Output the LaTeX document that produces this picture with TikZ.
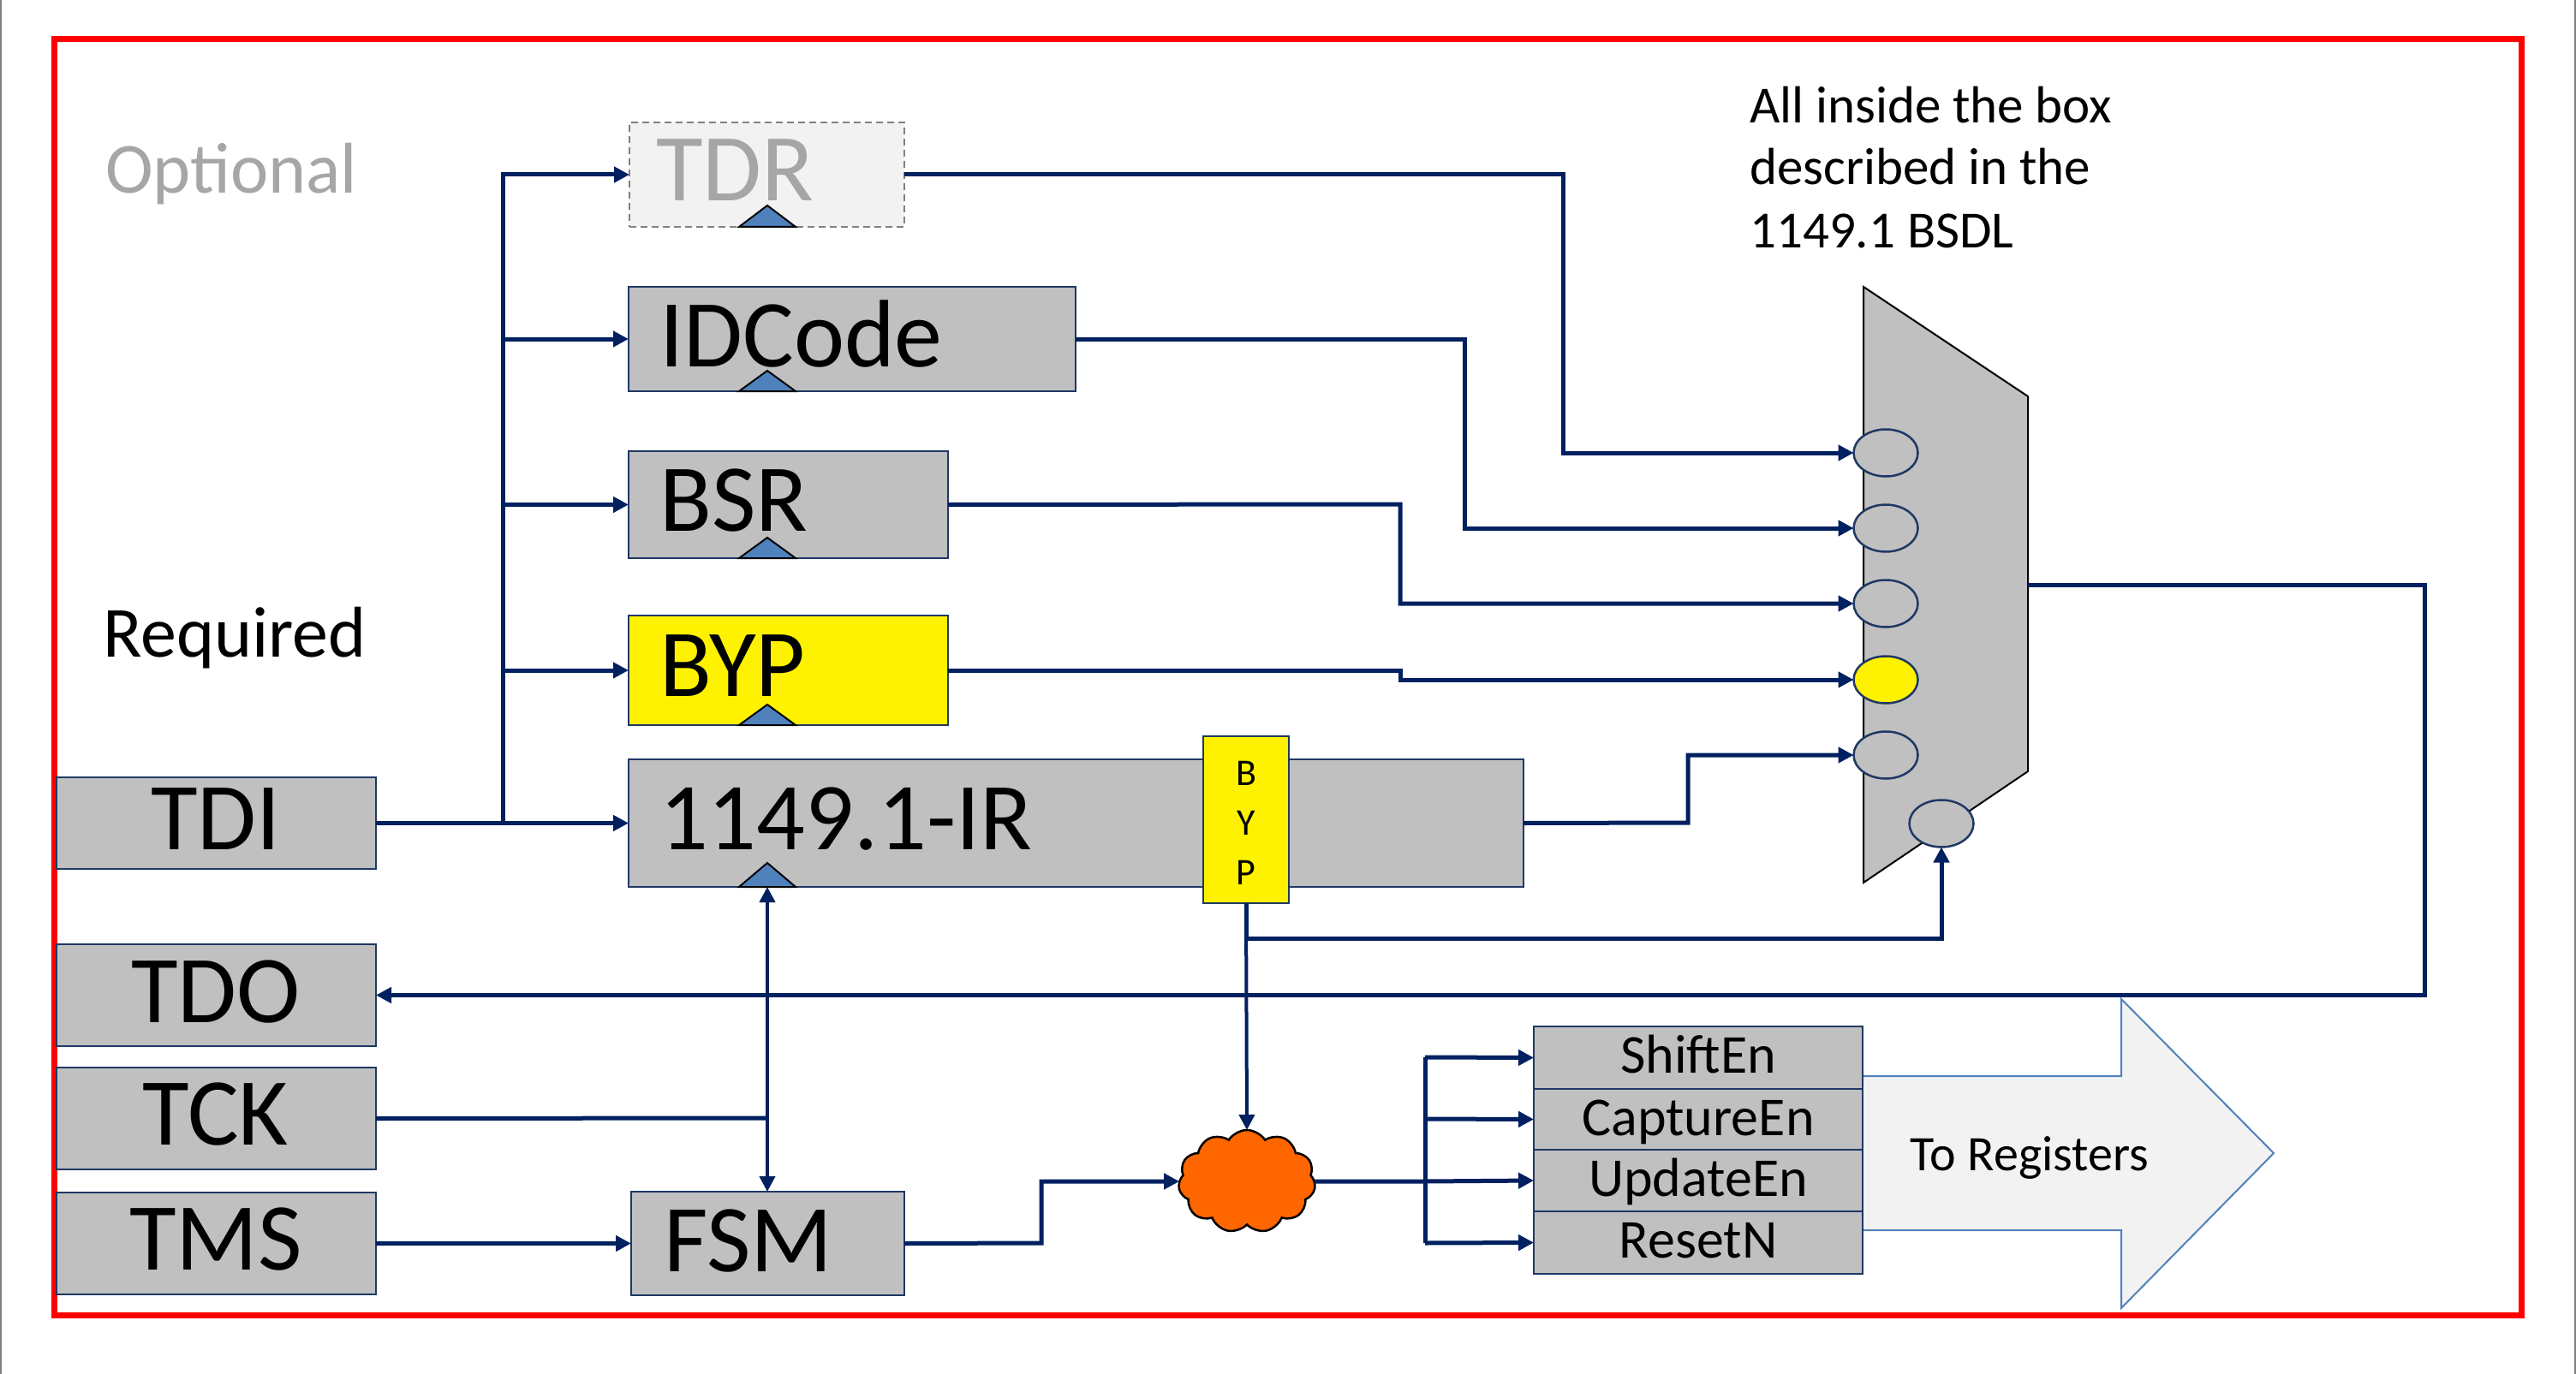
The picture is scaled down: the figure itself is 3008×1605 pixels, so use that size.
\documentclass[tikz,border=0pt]{standalone}
\usepackage{fontspec}
\setmainfont{Carlito}
\usetikzlibrary{arrows.meta,shapes.geometric,shapes.symbols}
\definecolor{navy}{HTML}{002060}
\definecolor{boxgray}{HTML}{C0C0C0}
\definecolor{boxline}{HTML}{1F3864}
\definecolor{clkblue}{HTML}{4F81BD}
\definecolor{optgray}{HTML}{A6A6A6}
\definecolor{lightfill}{HTML}{F2F2F2}
\definecolor{cloudorange}{HTML}{FF6600}
\definecolor{slideedge}{HTML}{7F7F7F}
\begin{document}
\begin{tikzpicture}[x=1pt,y=-1pt,
  regbox/.style={draw=boxline, line width=2.5pt, fill=boxgray, inner sep=0pt, outer sep=0pt, anchor=north west},
  optbox/.style={draw=gray, dashed, dash pattern=on 8pt off 5pt, line width=2pt, fill=lightfill, inner sep=0pt, outer sep=0pt, anchor=north west},
  ylwbox/.style={regbox, fill=yellow},
  muxin/.style={ellipse, draw=boxline, line width=2.5pt, fill=boxgray, minimum width=75pt, minimum height=55pt, inner sep=0pt, outer sep=0pt},
  wire/.style={draw=navy, line width=5pt},
  thinwire/.style={draw=navy, line width=4pt},
  arr/.style={-{Triangle[length=18pt,width=18pt]}},
  clktri/.style={draw=black, line width=2pt, fill=clkblue},
  bigtxt/.style={font=\fontsize{112}{134}\selectfont, inner sep=0pt},
  midtxt/.style={font=\fontsize{84}{100}\selectfont, inner sep=0pt},
  smalltxt/.style={font=\fontsize{64}{76}\selectfont, inner sep=0pt},
  notetxt/.style={font=\fontsize{61}{73}\selectfont, inner sep=0pt, anchor=base west},
  bytxt/.style={font=\fontsize{44}{52}\selectfont, inner sep=0pt}
]
\useasboundingbox (0,0) rectangle (3008,1605);
% slide edges
\draw[slideedge, line width=2pt] (1,0) -- (1,1605);
\draw[slideedge, line width=2pt] (3007,0) -- (3007,1605);
% red frame
\draw[red, line width=7pt] (63,46) rectangle (2944,1536);

% labels
\node[midtxt, text=optgray, anchor=base west] (optlbl) at (123,226) {Optional};
\node[midtxt, anchor=base west] (reqlbl) at (120,767) {Required};
\node[notetxt] (note1) at (2043,144) {All inside the box};
\node[notetxt] (note2) at (2043,216) {described in the};
\node[notetxt] (note3) at (2043,290) {1149.1 BSDL};

% registers
\node[optbox, minimum width=321pt, minimum height=122pt] (tdr) at (735,143) {};
\node[bigtxt, text=optgray, anchor=base west] (tdrt) at (766,235) {TDR};
\draw[clktri] (863,265) -- (896,240) -- (929,265) -- cycle;

\node[regbox, minimum width=522pt, minimum height=122pt] (idc) at (734,335) {};
\node[bigtxt, anchor=base west] (idct) at (770,428) {IDCode};
\draw[clktri] (863,457) -- (896,433) -- (929,457) -- cycle;

\node[regbox, minimum width=373pt, minimum height=125pt] (bsr) at (734,527) {};
\node[bigtxt, anchor=base west] (bsrt) at (770,620) {BSR};
\draw[clktri] (863,652) -- (896,628) -- (929,652) -- cycle;

\node[ylwbox, minimum width=373pt, minimum height=128pt] (byp) at (734,719) {};
\node[bigtxt, anchor=base west] (bypt) at (770,813) {BYP};
\draw[clktri] (863,847) -- (896,823) -- (929,847) -- cycle;

\node[regbox, minimum width=1045pt, minimum height=149pt] (ir) at (734,887) {};
\node[bigtxt, anchor=base west] (irt) at (770,992) {1149.1-IR};
\draw[clktri] (863,1036) -- (896,1008) -- (929,1036) -- cycle;
\coordinate (irclk) at (896,1036);

\node[ylwbox, minimum width=100pt, minimum height=195pt] (bypv) at (1405,860) {};
\node[bytxt, anchor=base] (bypb) at (1455,917) {B};
\node[bytxt, anchor=base] (bypy) at (1455,975) {Y};
\node[bytxt, anchor=base] (bypp) at (1455,1033) {P};

% pins
\node[regbox, minimum width=373pt, minimum height=107pt] (tdi) at (66,908) {};
\node[bigtxt, anchor=base] (tdit) at (252,992) {TDI};
\node[regbox, minimum width=373pt, minimum height=119pt] (tdo) at (66,1103) {};
\node[bigtxt, anchor=base] (tdot) at (252,1194) {TDO};
\node[regbox, minimum width=373pt, minimum height=119pt] (tck) at (66,1247) {};
\node[bigtxt, anchor=base] (tckt) at (252,1337) {TCK};
\node[regbox, minimum width=373pt, minimum height=119pt] (tms) at (66,1393) {};
\node[bigtxt, anchor=base] (tmst) at (252,1483) {TMS};

% FSM
\node[regbox, minimum width=319pt, minimum height=121pt] (fsm) at (737,1392) {};
\node[bigtxt, anchor=base west] (fsmt) at (775,1485) {FSM};

% mux
\draw[draw=black, line width=2pt, fill=boxgray] (2176,335) -- (2368,463) -- (2368,901) -- (2176,1031) -- cycle;
\coordinate (muxout) at (2368,683);
\node[muxin] (c1) at (2202,529) {};
\node[muxin] (c2) at (2202,617) {};
\node[muxin] (c3) at (2202,705) {};
\node[muxin, fill=yellow] (c4) at (2202,794) {};
\node[muxin] (c5) at (2202,882) {};
\node[muxin] (c6) at (2267,962) {};

% cloud
\node[cloud, cloud puffs=11, cloud puff arc=115, aspect=1.3, draw=black, line width=2.5pt, fill=cloudorange, minimum width=160pt, minimum height=120pt, inner sep=0pt, outer sep=0pt] (cl) at (1456,1380) {};

% big arrow
\draw[draw=clkblue, line width=2pt, fill=lightfill] (2150,1257) -- (2477,1257) -- (2477,1167) -- (2655,1347) -- (2477,1528) -- (2477,1437) -- (2150,1437) -- cycle;
\node[font=\fontsize{58}{70}\selectfont, inner sep=0pt, anchor=base] (toreg) at (2370,1367) {To Registers};

% enable boxes
\node[regbox, minimum width=384pt, minimum height=73pt] (sh) at (1791,1199) {};
\node[regbox, minimum width=384pt, minimum height=71pt] (cap) at (1791,1272) {};
\node[regbox, minimum width=384pt, minimum height=72pt] (upd) at (1791,1343) {};
\node[regbox, minimum width=384pt, minimum height=73pt] (rst) at (1791,1415) {};
\node[smalltxt, anchor=base] (sht) at (1983,1253) {ShiftEn};
\node[smalltxt, anchor=base] (capt) at (1983,1326) {CaptureEn};
\node[smalltxt, anchor=base] (updt) at (1983,1397) {UpdateEn};
\node[smalltxt, anchor=base] (rstt) at (1983,1469) {ResetN};

% TDI fan-out
\coordinate (split) at (587,961);
\draw[wire, arr] (tdi.east) -- (ir.west);
\draw[wire, arr] (split) |- (tdr.west);
\draw[wire, arr] (split) |- (idc.west);
\draw[wire, arr] (split) |- (bsr.west);
\draw[wire, arr] (split) |- (byp.west);

% registers to mux
\draw[wire, arr] (tdr.east) -- (1825,204) |- (c1.west);
\draw[wire, arr] (idc.east) -- (1710,396) |- (c2.west);
\draw[wire, arr] (bsr.east) -- (1635,589) |- (c3.west);
\draw[wire, arr] (byp.east) -- (1635,783) -- (1635,794) -- (c4.west);
\draw[wire, arr] (ir.east) -- (1971,961) |- (c5.west);
\draw[wire, arr] (bypv.south) -- (1455,1096) -| (c6.south);
\draw[thinwire, arr] (bypv.south) -- (cl.north);

% mux to TDO
\draw[wire, arr] (muxout) -- (2831,683) |- (tdo.east);

% clock / FSM
\draw[wire] (tck.east) -- (896,1306);
\draw[thinwire, {Triangle[length=18pt,width=18pt]}-{Triangle[length=18pt,width=18pt]}] (irclk) -- (fsm.north -| irclk);
\draw[wire, arr] (tms.east) -- (fsm.west);
\draw[wire, arr] (fsm.east) -- (1216,1452) |- (cl.west);

% cloud to enables
\coordinate (bus) at (1664,1380);
\draw[wire] (cl.east) -- (bus);
\draw[wire] (1664,1235) -- (1664,1452);
\draw[wire, arr] (1664,1235) -- (sh.west);
\draw[wire, arr] (1664,1307) -- (cap.west);
\draw[wire, arr] (bus) -- (upd.west);
\draw[wire, arr] (1664,1452) -- (rst.west);
\end{tikzpicture}
\end{document}
